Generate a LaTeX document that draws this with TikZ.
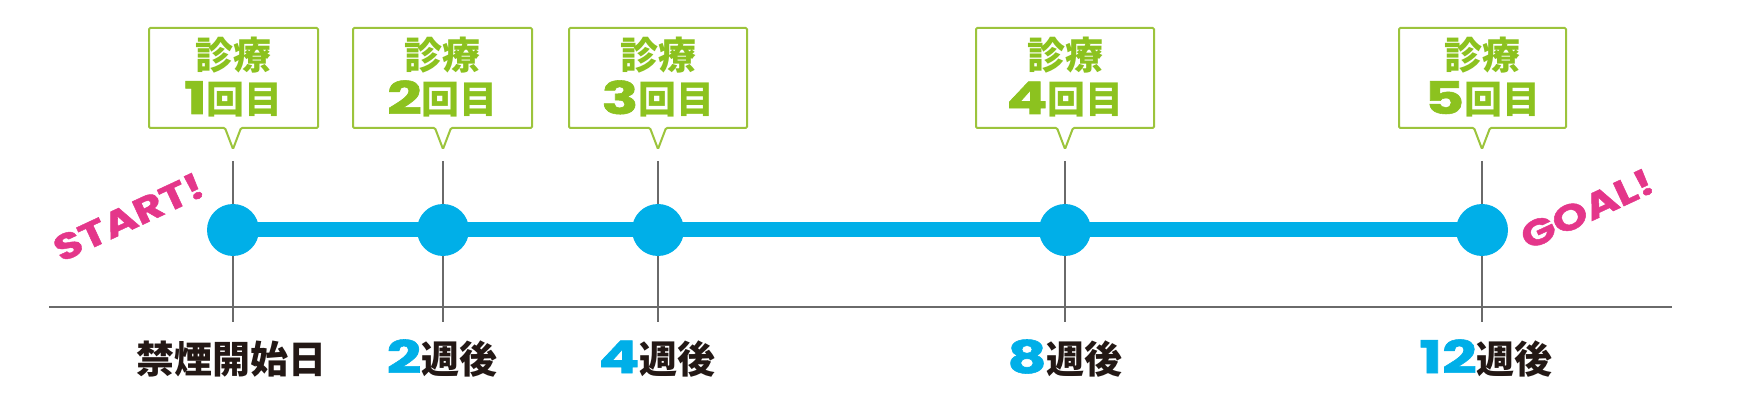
\documentclass[tikz,border=0pt]{standalone}
\usepackage{fontspec}
\newfontfamily\cjk{Noto Sans CJK JP}
\newfontfamily\digit{Poppins}[BoldFeatures={FakeBold=1.2}]
\definecolor{cgreen}{HTML}{8CC21F}
\definecolor{cboxline}{HTML}{9CC43C}
\definecolor{cblue}{HTML}{00AFE8}
\definecolor{cpink}{HTML}{E4368A}
\definecolor{cgray}{HTML}{6A6A6A}
\definecolor{ctext}{HTML}{231815}
\tikzset{
  grayline/.style={draw=cgray, line width=1.5pt},
  blueline/.style={draw=cblue, line width=15pt},
  dot/.style={circle, fill=cblue, minimum size=52pt, inner sep=0pt},
  callout/.style={draw=cboxline, line width=2pt, fill=white, rounded corners=1.2pt, line join=miter},
  boxtext/.style={anchor=base, inner sep=0pt, text=cgreen, font=\cjk\bfseries\fontsize{38}{44}\selectfont},
  weeklabel/.style={anchor=base, inner sep=0pt, text=ctext, font=\cjk\bfseries\fontsize{38}{44}\selectfont},
  slogan/.style={inner sep=0pt, text=cpink, rotate=25, font=\digit\bfseries\fontsize{36}{38}\selectfont},
}
\newcommand\bignum[1]{{\digit\bfseries\fontsize{45}{45}\selectfont\scalebox{1.35}[1]{#1}}}
\newcommand\mycallout[5]{%
  \draw[callout] (#2,28) -- (#3,28) -- (#3,128) -- (#4+8,128) -- (#4,149) -- (#4-8,128) -- (#2,128) -- cycle;
  \node[boxtext] (#1a) at ({(#2+#3)/2},70) {診療};
  \node[boxtext] (#1b) at ({(#2+#3)/2},114) {\bignum{#5}回目};
}
\begin{document}
\begin{tikzpicture}[x=1pt,y=-1pt]
\useasboundingbox (0,0) rectangle (1737,403);
% tick coordinates
\foreach \i/\x in {1/233,2/443,3/658,4/1065,5/1482}{
  \coordinate (t\i) at (\x,161);
  \coordinate (b\i) at (\x,322);
  \coordinate (c\i) at (\x,230);
}
\coordinate (axl) at (49,307);
\coordinate (axr) at (1672,307);
\draw[grayline] (axl) -- (axr);
\foreach \i in {1,...,5}{ \draw[grayline] (t\i) -- (b\i); }
\draw[blueline] (c1) -- (c5);
\foreach \i in {1,...,5}{ \node[dot] (d\i) at (c\i) {}; }
% callouts
\mycallout{k1}{149}{318}{233}{1}
\mycallout{k2}{353}{532}{443}{2}
\mycallout{k3}{569}{747}{658}{3}
\mycallout{k4}{976}{1154}{1065}{4}
\mycallout{k5}{1399}{1566}{1482}{5}
% week labels
\node[weeklabel] (l1) at (231,373) {禁煙開始日};
\node[weeklabel] (l2) at (442,373) {\textcolor{cblue}{\bignum{2}}週後};
\node[weeklabel] (l3) at (657,373) {\textcolor{cblue}{\bignum{4}}週後};
\node[weeklabel] (l4) at (1065,373) {\textcolor{cblue}{\bignum{8}}週後};
\node[weeklabel] (l5) at (1486,373) {\textcolor{cblue}{\bignum{12}}週後};
% slogans
\node[slogan] (start) at (128.5,217) {\scalebox{1.25}[1]{START!}};
\node[slogan] (goal) at (1587,209) {\scalebox{1.25}[1]{GOAL!}};
\end{tikzpicture}
\end{document}
